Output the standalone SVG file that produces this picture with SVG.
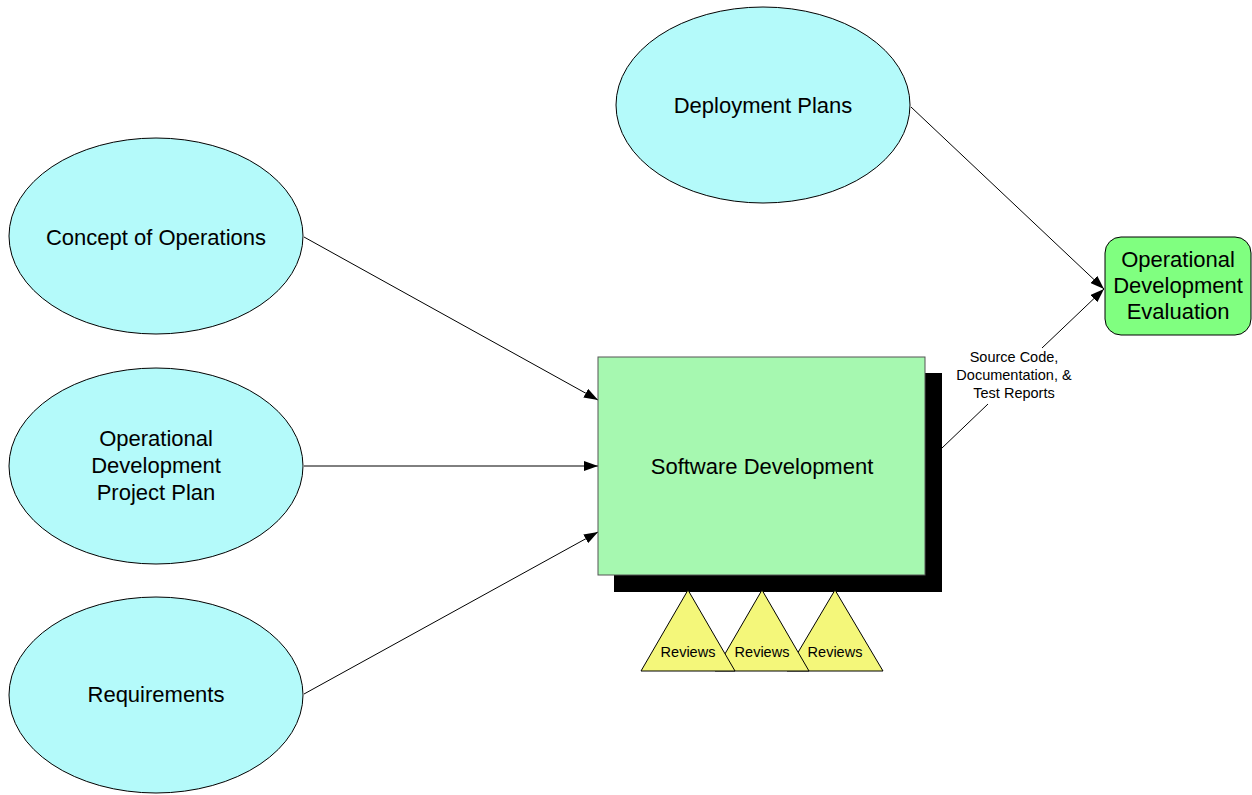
<svg xmlns="http://www.w3.org/2000/svg" width="1252" height="795" viewBox="0 0 1252 795">
<defs>
<style>
text{font-family:"Liberation Sans",Arial,sans-serif;fill:#000;text-anchor:middle}
.ell{fill:#B4FAFA;stroke:#000;stroke-width:1}
.t20{font-size:22px}
.t13{font-size:14.5px}
.t12{font-size:14.5px}
.tri{fill:#F4F77A;stroke:#000;stroke-width:1}
.con{stroke:#000;stroke-width:1;fill:none}
</style>
<marker id="arr" viewBox="0 0 14 10" refX="14" refY="5" markerWidth="14" markerHeight="10" markerUnits="userSpaceOnUse" orient="auto">
<path d="M0,0 L14,5 L0,10 Z" fill="#000"/>
</marker>
</defs>
<rect width="1252" height="795" fill="#fff"/>
<g id="connectors">
<line class="con" x1="304" y1="237" x2="598" y2="400" marker-end="url(#arr)"/>
<line class="con" x1="304" y1="466" x2="598" y2="466" marker-end="url(#arr)"/>
<line class="con" x1="304" y1="694" x2="598" y2="532" marker-end="url(#arr)"/>
<line class="con" x1="911" y1="107" x2="1104" y2="289" marker-end="url(#arr)"/>
<line class="con" x1="942" y1="448" x2="988" y2="404"/>
<line class="con" x1="1042" y1="348" x2="1104" y2="289" marker-end="url(#arr)"/>
<text class="t12" x="1014" y="362">Source Code,</text>
<text class="t12" x="1014" y="380">Documentation, &amp;</text>
<text class="t12" x="1014" y="398">Test Reports</text>
</g>
<g id="deployment-plans">
<ellipse class="ell" cx="763" cy="105" rx="147" ry="98"/>
<text class="t20" x="763" y="113">Deployment Plans</text>
</g>
<g id="concept-of-operations">
<ellipse class="ell" cx="156" cy="236" rx="147" ry="98"/>
<text class="t20" x="156" y="245">Concept of Operations</text>
</g>
<g id="project-plan">
<ellipse class="ell" cx="156" cy="466" rx="147" ry="98"/>
<text class="t20" x="156" y="446">Operational</text>
<text class="t20" x="156" y="473">Development</text>
<text class="t20" x="156" y="500">Project Plan</text>
</g>
<g id="requirements">
<ellipse class="ell" cx="156" cy="695" rx="147" ry="98"/>
<text class="t20" x="156" y="702">Requirements</text>
</g>
<g id="software-development">
<rect x="614" y="373" width="328" height="219" fill="#000"/>
<rect x="598" y="357" width="327" height="218" fill="#A6F8B0" stroke="#555" stroke-width="1"/>
<text class="t20" x="762" y="474">Software Development</text>
</g>
<g id="reviews-3">
<polygon class="tri" points="835,590 883,671 787,671"/>
<text class="t13" x="835" y="657">Reviews</text>
</g>
<g id="reviews-2">
<polygon class="tri" points="762,590 809,671 715,671"/>
<text class="t13" x="762" y="657">Reviews</text>
</g>
<g id="reviews-1">
<polygon class="tri" points="688,590 735,671 641,671"/>
<text class="t13" x="688" y="657">Reviews</text>
</g>
<g id="operational-development-evaluation">
<rect x="1105" y="237" width="146" height="98" rx="16" ry="16" fill="#80FF80" stroke="#000" stroke-width="1"/>
<text class="t20" x="1178" y="267">Operational</text>
<text class="t20" x="1178" y="293">Development</text>
<text class="t20" x="1178" y="319">Evaluation</text>
</g>
</svg>
